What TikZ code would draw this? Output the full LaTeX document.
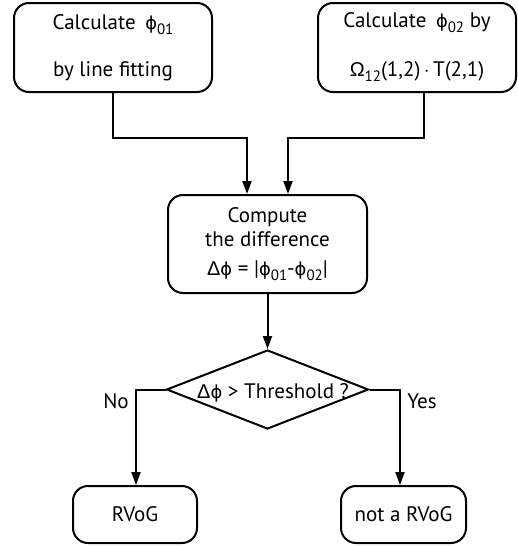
\documentclass[tikz,border=0pt]{standalone}
\usepackage{fontspec}
\setmainfont{PT Sans}
\newfontfamily\gr[Scale=0.85]{DejaVu Sans}
\newfontfamily\gk[Scale=0.95]{Liberation Sans}
\usetikzlibrary{arrows.meta,shapes.geometric}
\newcommand\sbs[1]{\raisebox{-5pt}{\fontsize{15}{15}\selectfont #1}}
\newcommand\ph{{\gr ϕ}}
\newcommand\Dl{{\gk Δ}}
\newcommand\Om{{\gk Ω}}
\begin{document}
\begin{tikzpicture}[x=1pt,y=-1pt,
  box/.style={draw, line width=2pt, rounded corners=15pt, align=center, inner sep=0pt,
    font=\fontsize{21}{24}\selectfont},
  arr/.style={draw, line width=2pt, -{Triangle[length=13pt,width=9pt]}},
  lbl/.style={font=\fontsize{21}{24}\selectfont, inner sep=0pt}]
\useasboundingbox (0,0) rectangle (518,546);
\node[box, minimum width=198pt, minimum height=89pt] (b1) at (113,47.5)
  {Calculate\hspace{4pt} \ph\sbs{01}\\[23pt]by line fitting};
\node[box, minimum width=198pt, minimum height=89pt] (b2) at (417,47.5)
  {Calculate\hspace{4pt} \ph\sbs{02} by\\[25pt]\Om\sbs{12}(1,2)\,$\cdot$\,T(2,1)};
\node[box, minimum width=199pt, minimum height=98pt] (b3) at (267.5,244)
  {Compute\\the difference\\[5pt]\Dl\ph\ = |\ph\sbs{01}-\ph\sbs{02}|};
\node[draw, line width=2pt, diamond, inner sep=0pt,
  minimum width=202pt, minimum height=79pt] (d) at (267.5,389.5) {};
\node[lbl, anchor=base west] (dt) at (197,398) {\Dl\ph\ > Threshold ?};
\node[box, minimum width=124pt, minimum height=57pt] (r1) at (135,514.5) {RVoG};
\node[box, minimum width=125pt, minimum height=57pt] (r2) at (403.5,514.5) {not a RVoG};
\draw[arr] (b1.south) -- ++(0,45) -| ([xshift=-20.5pt]b3.north);
\draw[arr] ([xshift=7pt]b2.south) -- ++(0,45) -| ([xshift=20.5pt]b3.north);
\draw[arr] (b3.south) -- (d.north);
\draw[arr] (d.west) -| ([xshift=1pt]r1.north);
\draw[arr] (d.east) -| ([xshift=-3.5pt]r2.north);
\node[lbl] (no) at (116,401) {No};
\node[lbl] (yes) at (422,401) {Yes};
\end{tikzpicture}
\end{document}
